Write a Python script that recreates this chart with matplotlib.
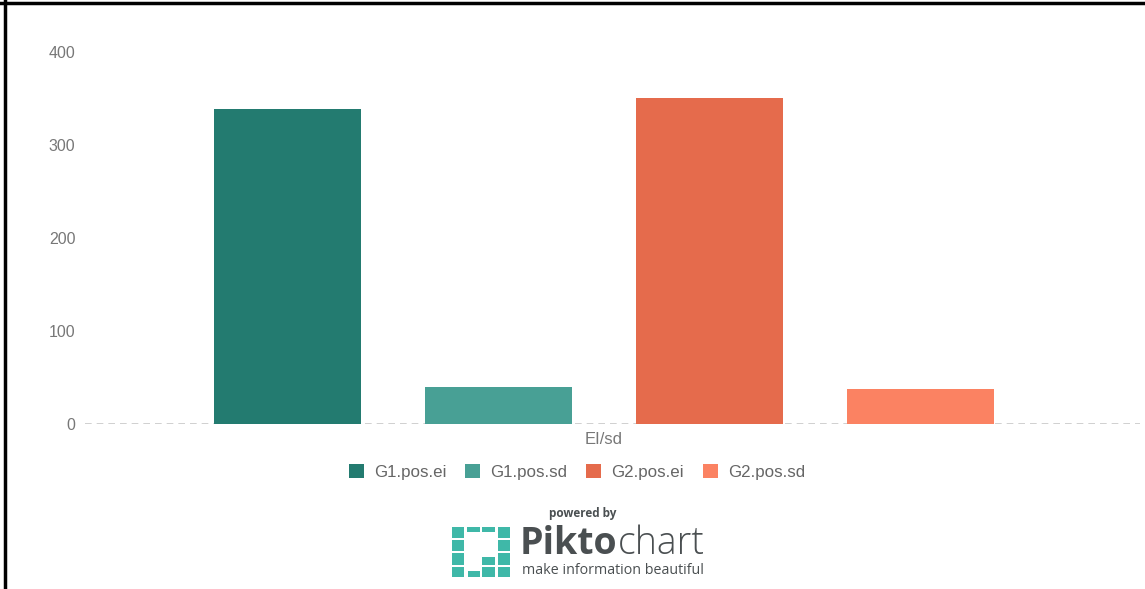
import matplotlib
matplotlib.use("Agg")
import matplotlib.pyplot as plt
from matplotlib.patches import Rectangle, Patch
from matplotlib.lines import Line2D

category = "EI/sd"
series = ["G1.pos.ei", "G1.pos.sd", "G2.pos.ei", "G2.pos.sd"]
values = [338.5, 40.0, 350.5, 37.5]
colors = ["#237b70", "#48a095", "#e56b4c", "#fb8262"]
yticks = [0, 100, 200, 300, 400]

W, H = 1145, 589
fig = plt.figure(figsize=(W / 100, H / 100), dpi=100)
plt.rcParams['font.family'] = ['Liberation Sans', 'DejaVu Sans']

def fx(px):
    return px / W

def fy(py):
    return 1 - py / H

ax = fig.add_axes([fx(85), fy(424), fx(1140) - fx(85), fy(52) - fy(424)])
positions = list(range(len(series)))
ax.bar(positions, values, width=0.70, color=colors, zorder=2)
ax.set_xlim(-0.96, 4.04)
ax.set_ylim(0, 400)
ax.set_yticks(yticks)
ax.set_yticklabels([str(t) for t in yticks], color="#777777", fontsize=11.5)
ax.tick_params(axis="y", length=0, pad=7)
ax.set_xticks([])
for s in ax.spines.values():
    s.set_visible(False)
ax.axhline(0, color="#c8c8c8", lw=1.2, ls=(0, (4, 3)), zorder=1)

fig.text(fx(604), fy(440), category, ha="center", va="center",
         color="#777777", fontsize=12)

handles = [Patch(facecolor=c, edgecolor="none") for c in colors]
fig.legend(handles, series, loc="center", bbox_to_anchor=(fx(577), fy(472)),
           ncol=4, frameon=False, fontsize=12.2, labelcolor="#666666",
           handlelength=0.9, handleheight=0.9, handletextpad=0.6,
           columnspacing=1.1)

# frame lines
fig.add_artist(Line2D([0, 1], [fy(2.5), fy(2.5)], color="black", lw=2.5,
                      transform=fig.transFigure))
fig.add_artist(Line2D([fx(5), fx(5)], [0, 1], color="black", lw=2.5,
                      transform=fig.transFigure))

# Piktochart badge
fig.text(fx(583), fy(513), "powered by", ha="center", va="center",
         fontsize=8.5, fontweight="bold", color="#4a4f51", family="Open Sans")
teal = "#3fb8a8"
cells = [
    (452, 527, 12, 11), (452, 540, 12, 11), (452, 553, 12, 12), (452, 567, 12, 10),
    (498, 527, 12, 11), (498, 540, 12, 11), (498, 553, 12, 12), (498, 567, 12, 10),
    (467, 527, 13, 5), (482, 527, 13, 5),
    (482, 557, 13, 8), (482, 567, 13, 10), (468, 571, 12, 6),
]
for (cx, cy, cw, ch) in cells:
    fig.add_artist(Rectangle((fx(cx), fy(cy + ch)), cw / W, ch / H,
                             facecolor=teal, edgecolor="none",
                             transform=fig.transFigure))
t1 = fig.text(fx(520), fy(544), "Pikto", ha="left", va="center", fontsize=27,
              fontweight="bold", color="#4a4f51", family="Open Sans")
fig.canvas.draw()
bb = t1.get_window_extent()
fig.text(bb.x1 / (W) + 0.0005, fy(544), "chart", ha="left", va="center",
         fontsize=27, fontweight="light", color="#4a4f51", family="Open Sans")
fig.text(fx(522), fy(570), "make information beautiful", ha="left",
         va="center", fontsize=10.3, color="#4a4f51", family="Open Sans")

fig.savefig("out.png", dpi=100)
